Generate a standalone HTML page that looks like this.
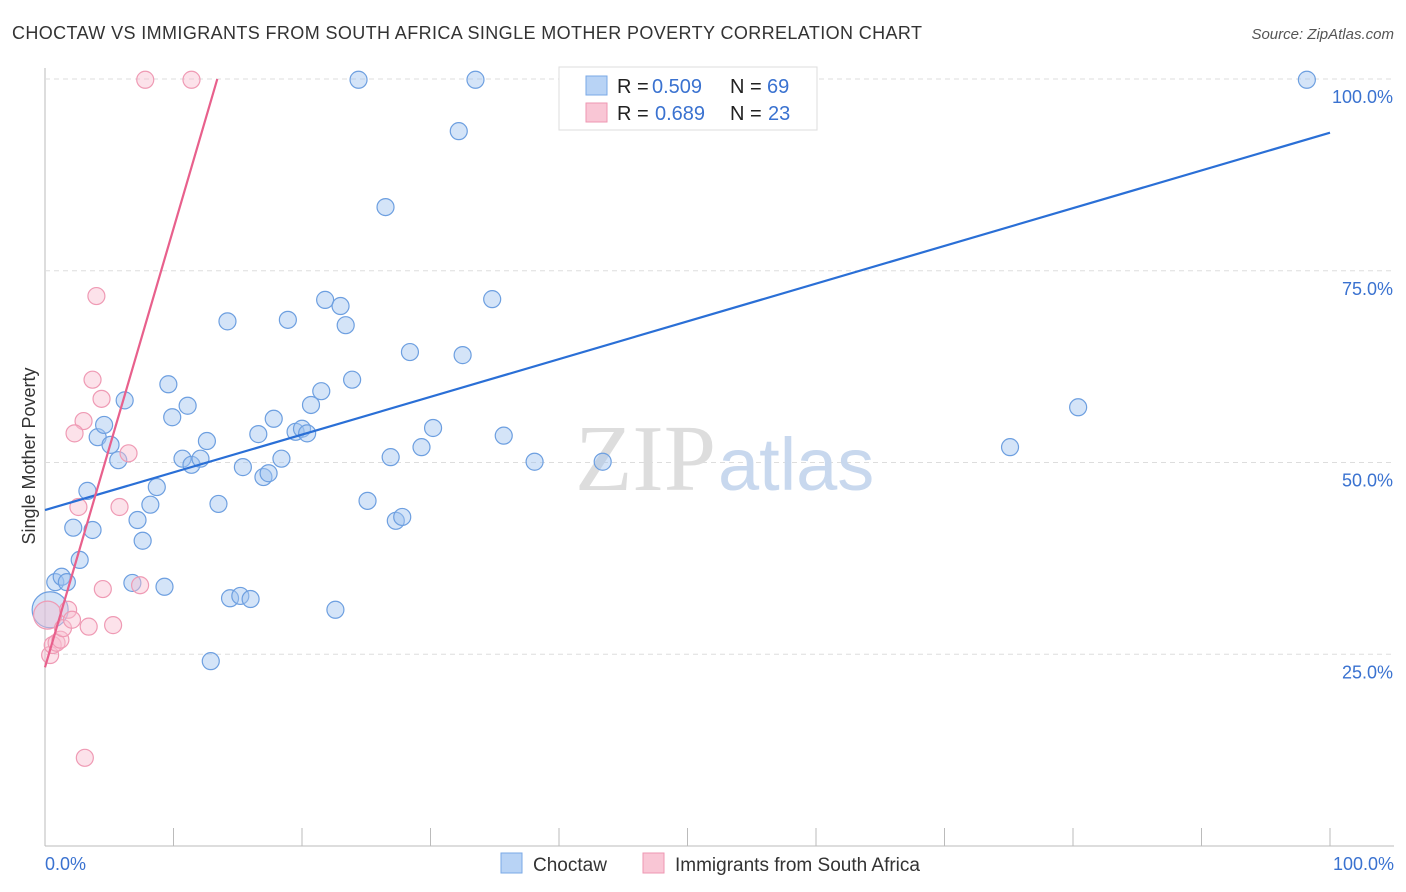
<!DOCTYPE html>
<html><head><meta charset="utf-8"><style>
body{margin:0;background:#fff;font-family:"Liberation Sans",sans-serif}
svg{display:block}
</style></head><body>
<svg id="c" width="1406" height="892">
<text x="12" y="39" font-size="18" fill="#333" textLength="910">CHOCTAW VS IMMIGRANTS FROM SOUTH AFRICA SINGLE MOTHER POVERTY CORRELATION CHART</text>
<text x="1394" y="39" font-size="15" fill="#555" font-style="italic" text-anchor="end">Source: ZipAtlas.com</text>
<text x="35" y="456" font-size="18" fill="#333" text-anchor="middle" transform="rotate(-90 35 456)">Single Mother Poverty</text>
<g id="grid"></g>
<text x="716" y="490" font-size="94" fill="#ddd" font-family="Liberation Serif,serif" text-anchor="end">ZIP</text>
<text x="718" y="490" font-size="74" fill="#c8d8ee">atlas</text>
<g id="pts"></g>
<g id="lines"></g>
<g>
<rect x="559" y="67" width="258" height="63" fill="#fff" stroke="#ddd"/>
<rect x="586" y="76" width="21" height="19" fill="#b8d3f5" stroke="#7aa8e6"/>
<rect x="586" y="103" width="21" height="19" fill="#f9c6d5" stroke="#ee97b2"/>
<text x="617" y="93" font-size="20" fill="#222">R =</text>
<text x="652" y="93" font-size="20" fill="#3a72d0">0.509</text>
<text x="730" y="93" font-size="20" fill="#222">N =</text>
<text x="767" y="93" font-size="20" fill="#3a72d0">69</text>
<text x="617" y="120" font-size="20" fill="#222">R =</text>
<text x="655" y="120" font-size="20" fill="#3a72d0">0.689</text>
<text x="730" y="120" font-size="20" fill="#222">N =</text>
<text x="768" y="120" font-size="20" fill="#3a72d0">23</text>
</g>
<g>
<rect x="501" y="853" width="21" height="20" fill="#b8d3f5" stroke="#7aa8e6"/>
<text x="533" y="871" font-size="19" fill="#333">Choctaw</text>
<rect x="643" y="853" width="21" height="20" fill="#f9c6d5" stroke="#ee97b2"/>
<text x="675" y="871" font-size="19" fill="#333">Immigrants from South Africa</text>
</g>
<text x="45" y="870" font-size="18" fill="#3a72d0">0.0%</text>
<text x="1394" y="870" font-size="18" fill="#3a72d0" text-anchor="end">100.0%</text>
</svg>
<script>
const yTicks=[25,50,75,100];
const yTickLabels=["25.0%","50.0%","75.0%","100.0%"];
const blueX=[0.4,0.8,1.3,1.7,2.2,2.7,3.3,3.7,4.1,4.6,5.1,5.7,6.2,6.8,7.2,7.6,8.2,8.7,9.3,9.6,9.9,10.7,11.1,11.4,12.1,12.6,12.9,13.5,14.2,14.4,15.2,15.4,16.0,16.6,17.0,17.4,17.8,18.4,18.9,19.5,20.0,20.4,20.7,21.5,21.8,22.6,23.0,23.4,23.9,24.4,25.1,26.5,26.9,27.3,27.8,28.4,29.3,30.2,32.2,32.5,33.5,34.8,35.7,38.1,43.4,45.5,75.1,80.4,98.2];
const blueY=[30.8,34.4,35.1,34.4,41.5,37.3,46.3,41.2,53.3,54.9,52.3,50.3,58.1,34.3,42.5,39.8,44.5,46.8,33.8,60.2,55.9,50.5,57.4,49.7,50.5,52.8,24.1,44.6,68.4,32.3,32.6,49.4,32.2,53.7,48.1,48.6,55.7,50.5,68.6,54.0,54.4,53.8,57.5,59.3,71.2,30.8,70.4,67.9,60.8,99.9,45.0,83.3,50.7,42.4,42.9,64.4,52.0,54.5,93.2,64.0,99.9,71.3,53.5,50.1,50.1,99.9,52.0,57.2,99.9];
const pinkX=[0.2,0.4,0.6,0.9,1.2,1.4,1.8,2.1,2.6,3.0,3.1,3.4,4.0,3.7,2.3,4.4,4.5,5.3,5.8,6.5,7.4,7.8,11.4];
const pinkY=[30.1,24.9,26.2,26.5,26.9,28.4,30.8,29.5,44.2,55.4,11.5,28.6,71.7,60.8,53.8,58.3,33.5,28.8,44.2,51.2,34.0,99.9,99.9];
const blueLine=[43.8,93.0];
const pinkLine=[23.3,5.72];
const X=v=>45+v*12.85, Y=v=>846-v*7.67;
const ns="http://www.w3.org/2000/svg";
function mk(t,a,p){const e=document.createElementNS(ns,t);for(const k in a)e.setAttribute(k,a[k]);p.appendChild(e);return e;}
const g=document.getElementById('grid');
const ax=mk('line',{x1:45,y1:68,x2:45,y2:846,stroke:'#bbb'},g);


const bx=mk('line',{x1:45,y1:846,x2:1394,y2:846,stroke:'#bbb'},g);


for(let i=1;i<=10;i++){const t=mk('line',{x1:X(i*10),x2:X(i*10),y1:828,y2:846,stroke:'#bbb'},g);

}
yTicks.forEach((v,i)=>{const l=mk('line',{x1:45,x2:1394,y1:Y(v),y2:Y(v),stroke:'#ddd','stroke-dasharray':'5,4'},g);


const t=mk('text',{x:1393,y:Y(v)+24,'font-size':18,fill:'#3a72d0','text-anchor':'end'},g);t.textContent=yTickLabels[i];

});
const p=document.getElementById('pts');
blueX.forEach((x,i)=>{const c=mk('circle',{cx:X(x),cy:Y(blueY[i]),r:i==0?18:8.5,fill:'rgba(160,195,240,0.45)',stroke:'#6d9fe0','stroke-width':1.2},p);

});
pinkX.forEach((x,i)=>{const c=mk('circle',{cx:X(x),cy:Y(pinkY[i]),r:i==0?14:8.5,fill:'rgba(248,190,208,0.45)',stroke:'#ef9ab4','stroke-width':1.2},p);

});
const L=document.getElementById('lines');
const b=mk('line',{x1:X(0),y1:Y(blueLine[0]),x2:X(100),y2:Y(blueLine[1]),stroke:'#2a6fd6','stroke-width':2.2},L);


const xe=(100-pinkLine[0])/pinkLine[1];
const pl=mk('line',{x1:X(0),y1:Y(pinkLine[0]),x2:X(xe),y2:Y(100),stroke:'#e8608c','stroke-width':2.2},L);


</script>
</body></html>
